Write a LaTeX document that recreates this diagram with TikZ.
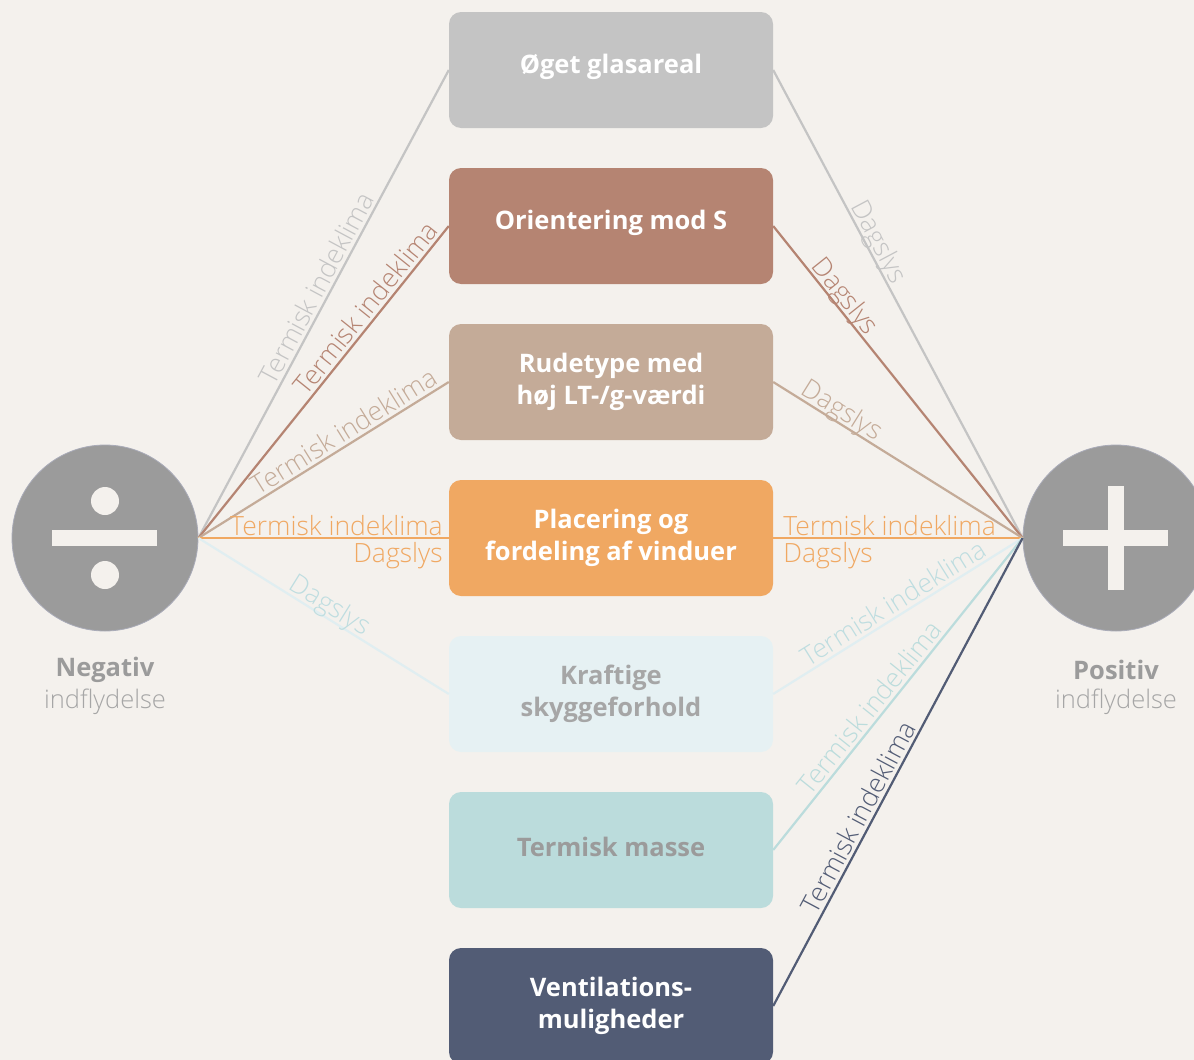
\documentclass[tikz,border=0pt]{standalone}
\usepackage{fontspec}
\setmainfont{Open Sans}
\newfontfamily\thinfont{Open Sans Light}
\definecolor{bgc}{HTML}{F4F1ED}
\definecolor{cglas}{HTML}{C4C4C4}
\definecolor{corient}{HTML}{B58472}
\definecolor{crude}{HTML}{C4AB98}
\definecolor{cplac}{HTML}{F0A862}
\definecolor{cskygge}{HTML}{E6F1F3}
\definecolor{cskyggeline}{HTML}{E0EEF1}
\definecolor{cskyggetxt}{HTML}{BEDDE0}
\definecolor{cmasse}{HTML}{BBDCDC}
\definecolor{cvent}{HTML}{525C75}
\definecolor{csign}{HTML}{9B9B9B}
\definecolor{csignedge}{HTML}{A9ABB8}
\definecolor{cgraytxt}{HTML}{9B9B9B}
\definecolor{clighttxt}{HTML}{A6A6A6}
% single-line box text sits a little above the box centre
\newcommand{\upline}[1]{\raisebox{3pt}[\height][\depth]{#1}}
\begin{document}
\begin{tikzpicture}[x=1pt,y=-1pt,
  box/.style={rounded corners=12pt, minimum width=324pt, minimum height=116pt,
    inner sep=0pt, align=center, text=white,
    font=\bfseries\fontsize{25.5}{32}\selectfont},
  conn/.style={line width=2.2pt},
  lbl/.style={sloped, above, text depth=0pt, inner sep=3pt,
    font=\thinfont\fontsize{26.5}{28}\selectfont},
  hlbl/.style={inner sep=0pt, font=\thinfont\fontsize{26.5}{28}\selectfont},
  sign/.style={circle, fill=csign, draw=csignedge, line width=0.8pt,
    minimum size=186pt, inner sep=0pt},
  capbold/.style={text=cgraytxt, font=\bfseries\fontsize{25.5}{30}\selectfont},
  capthin/.style={text=clighttxt, font=\thinfont\fontsize{25.5}{30}\selectfont}]

\fill[bgc] (0,0) rectangle (1194,1060);
\useasboundingbox (0,0) rectangle (1194,1060);

% factor boxes
\node[box, fill=cglas]   (b1) at (611,70)   {\upline{Øget glasareal}};
\node[box, fill=corient] (b2) at (611,226)  {\upline{Orientering mod S}};
\node[box, fill=crude]   (b3) at (611,382)  {Rudetype med\\høj LT-/g-værdi};
\node[box, fill=cplac]   (b4) at (611,538)  {Placering og\\fordeling af vinduer};
\node[box, fill=cskygge, text=clighttxt] (b5) at (611,694) {Kraftige\\skyggeforhold};
\node[box, fill=cmasse, text=cgraytxt]   (b6) at (611,850) {\upline{Termisk masse}};
\node[box, fill=cvent]   (b7) at (611,1006) {Ventilations-\\muligheder};

% negative and positive influence signs
\node[sign] (neg) at (105,538) {};
\node[sign] (pos) at (1116,538) {};
\fill[bgc] (52,530) rectangle (157,546);
\fill[bgc] (105,501) circle[radius=14pt];
\fill[bgc] (105,575) circle[radius=14pt];
\fill[bgc] (1063,530) rectangle (1168,546);
\fill[bgc] (1108,486) rectangle (1124,590);

\node[capbold] (negt) at (105,670) {Negativ};
\node[capthin] (negs) at (105,702) {indflydelse};
\node[capbold] (post) at (1116,670) {Positiv};
\node[capthin] (poss) at (1116,702) {indflydelse};

% negative influence
\draw[conn, cglas] (neg.east) -- node[lbl, pos=0.52, text=cglas] {Termisk indeklima} (b1.west);
\draw[conn, corient] (neg.east) -- node[lbl, pos=0.71, text=corient] {Termisk indeklima} (b2.west);
\draw[conn, crude] (neg.east) -- node[lbl, pos=0.61, text=crude] {Termisk indeklima} (b3.west);
\draw[conn, cplac] (neg.east) -- (b4.west)
  node[hlbl, pos=1, anchor=base east, xshift=-5pt, yshift=3pt, text=cplac] {Termisk indeklima}
  node[hlbl, pos=1, anchor=north east, xshift=-5pt, yshift=-3pt, text=cplac] {Dagslys};
\draw[conn, cskyggeline] (neg.east) -- node[lbl, pos=0.5, text=cskyggetxt] {Dagslys} (b5.west);

% positive influence
\draw[conn, cglas] (b1.east) -- node[lbl, pos=0.38, text=cglas] {Dagslys} (pos.west);
\draw[conn, corient] (b2.east) -- node[lbl, pos=0.25, text=corient] {Dagslys} (pos.west);
\draw[conn, crude] (b3.east) -- node[lbl, pos=0.25, text=crude] {Dagslys} (pos.west);
\draw[conn, cplac] (b4.east) -- (pos.west)
  node[hlbl, pos=0, anchor=base west, xshift=9pt, yshift=3pt, text=cplac] {Termisk indeklima}
  node[hlbl, pos=0, anchor=north west, xshift=9pt, yshift=-3pt, text=cplac] {Dagslys};
\draw[conn, cskyggeline] (b5.east) -- node[lbl, pos=0.51, text=cskyggetxt] {Termisk indeklima} (pos.west);
\draw[conn, cmasse] (b6.east) -- node[lbl, pos=0.43, text=cmasse] {Termisk indeklima} (pos.west);
\draw[conn, cvent] (b7.east) -- node[lbl, pos=0.39, text=cvent] {Termisk indeklima} (pos.west);
\end{tikzpicture}
\end{document}
